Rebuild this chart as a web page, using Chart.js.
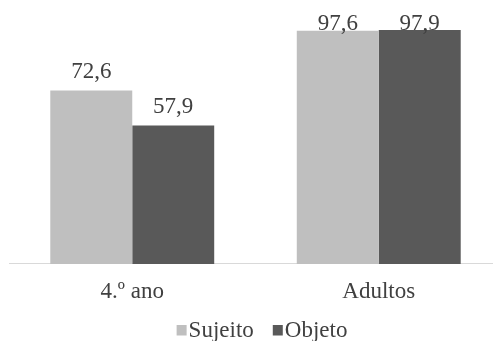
<!DOCTYPE html>
<html>
<head>
<meta charset="utf-8">
<script src="https://cdn.jsdelivr.net/npm/chart.js@4"></script>
<style>
  html, body { margin: 0; padding: 0; background: #ffffff; overflow: hidden; }
  #wrap { position: relative; width: 502px; height: 341px; }
</style>
</head>
<body>
<div id="wrap"><canvas id="c"></canvas></div>
<script>
const categories = ["4.º ano", "Adultos"];
const seriesNames = ["Sujeito", "Objeto"];
const sujeitoValues = [72.6, 97.6];
const objetoValues = [57.9, 97.9];
const seriesColors = ['#bfbfbf', '#595959'];

const FONT = '"Liberation Serif", "Times New Roman", serif';
const TEXT = '#404040';

const labelPlugin = {
  id: 'barLabels',
  afterDatasetsDraw(chart) {
    const ctx = chart.ctx;
    ctx.save();
    ctx.font = '23px ' + FONT;
    ctx.fillStyle = TEXT;
    ctx.textAlign = 'center';
    ctx.textBaseline = 'alphabetic';
    chart.data.datasets.forEach((ds, di) => {
      const meta = chart.getDatasetMeta(di);
      meta.data.forEach((bar, i) => {
        const txt = ds.data[i].toFixed(1).replace('.', ',');
        let y = bar.y - 12.5;
        const minY = chart.chartArea.top + 5;
        if (y < minY) y = minY;
        ctx.fillText(txt, bar.x, y);
      });
    });
    ctx.restore();
  }
};

const legendPlugin = {
  id: 'customLegend',
  afterDraw(chart) {
    const ctx = chart.ctx;
    ctx.save();
    ctx.font = '23px ' + FONT;
    ctx.textBaseline = 'alphabetic';
    ctx.textAlign = 'left';
    const box = 10, gap = 2, itemGap = 19;
    const items = chart.data.datasets.map(ds => ({ label: ds.label, color: ds.backgroundColor, w: ctx.measureText(ds.label).width }));
    let total = 0;
    items.forEach((it, i) => { total += box + gap + it.w + (i < items.length - 1 ? itemGap : 0); });
    const center = chart.width / 2 + 11;
    let x = center - total / 2;
    const baseline = chart.height - 4.5;
    items.forEach(it => {
      ctx.fillStyle = it.color;
      ctx.fillRect(x, baseline - 11.5, box, box + 0.5);
      ctx.fillStyle = TEXT;
      ctx.fillText(it.label, x + box + gap, baseline);
      x += box + gap + it.w + itemGap;
    });
    ctx.restore();
  }
};

new Chart(document.getElementById('c'), {
  type: 'bar',
  data: {
    labels: categories,
    datasets: [
      { label: seriesNames[0], data: sujeitoValues, backgroundColor: seriesColors[0] },
      { label: seriesNames[1], data: objetoValues, backgroundColor: seriesColors[1] }
    ]
  },
  options: {
    responsive: true,
    maintainAspectRatio: false,
    animation: false,
    datasets: { bar: { categoryPercentage: 0.665, barPercentage: 1.0, borderWidth: 0 } },
    layout: { padding: { left: 9, right: 0, top: 25, bottom: 21.5 } },
    scales: {
      x: {
        grid: { display: false, drawTicks: false },
        border: { display: true, color: '#d9d9d9', width: 1 },
        ticks: { color: TEXT, font: { family: FONT, size: 23 }, padding: 14 }
      },
      y: { display: false, min: 0, max: 100 }
    },
    plugins: {
      legend: { display: false },
      tooltip: { enabled: false }
    }
  },
  plugins: [labelPlugin, legendPlugin]
});
</script>
</body>
</html>
